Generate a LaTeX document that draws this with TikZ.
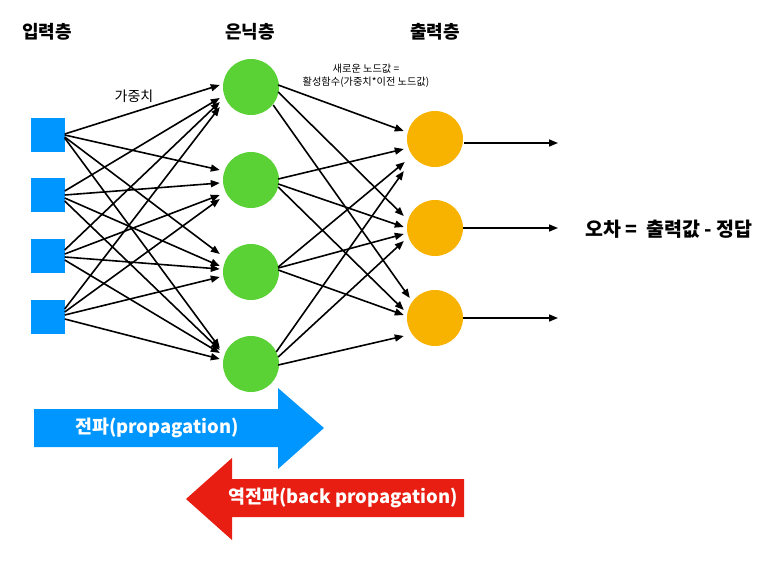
\documentclass[tikz,border=0pt]{standalone}
\usepackage{fontspec}
\setmainfont{Noto Sans CJK KR}
\usetikzlibrary{arrows.meta,calc}
\definecolor{inblue}{RGB}{0,150,255}
\definecolor{hgreen}{RGB}{90,209,52}
\definecolor{oorange}{RGB}{248,178,0}
\definecolor{bred}{RGB}{232,30,18}
\begin{document}
\begin{tikzpicture}[x=1pt,y=-1pt,
  conn/.style={line width=1.6pt,-{Triangle[length=9pt,width=7pt]}},
  inbox/.style={fill=inblue,minimum size=34pt,inner sep=0pt,draw=none},
  hidn/.style={circle,fill=hgreen,minimum size=56pt,inner sep=0pt},
  outn/.style={circle,fill=oorange,minimum size=56pt,inner sep=0pt},
  title/.style={font=\fontsize{18}{21}\selectfont\bfseries},
  small/.style={font=\fontsize{10.2}{13}\selectfont,align=center},
  big/.style={font=\fontsize{18.4}{22}\selectfont\bfseries,text=white},
]
\useasboundingbox (0,0) rectangle (768,560);

% layer titles
\node[title] (t1) at (47,32) {입력층};
\node[title] (t2) at (250,32) {은닉층};
\node[title] (t3) at (435,32) {출력층};

% nodes
\node[inbox] (in1) at (47.5,135) {};
\node[inbox] (in2) at (47.5,195) {};
\node[inbox] (in3) at (47.5,256) {};
\node[inbox] (in4) at (47.5,317) {};
\node[hidn] (h1) at (251,87) {};
\node[hidn] (h2) at (251,180) {};
\node[hidn] (h3) at (251,272) {};
\node[hidn] (h4) at (251,364) {};
\node[outn] (o1) at (435,139) {};
\node[outn] (o2) at (435,228) {};
\node[outn] (o3) at (435,318) {};

% input -> hidden
\foreach \i/\j/\s/\t in {
  1/1/-1/-2, 1/2/0/-10, 1/3/2/-18, 1/4/3/-16,
  2/1/-4/11, 2/2/0/3, 2/3/3/-6, 2/4/6/-14,
  3/1/-6/15, 3/2/-2/15, 3/3/1/-3, 3/4/4/-11,
  4/1/-8/20, 4/2/-5/19, 4/3/-2/5, 4/4/2/-5}
  \draw[conn] ($(in\i.east)+(0,\s)$) -- ($(h\j.west)+(-3,\t)$);

% hidden -> output
\foreach \j/\k/\sx/\sy/\tx/\ty in {
  1/1/-1/-2/-3/-8, 1/2/-1/5/-3/-12, 1/3/-6/18/3/-20,
  2/1/-1/-1/-3/10, 2/2/-1/4/-3/-1, 2/3/-1/7/-3/-8,
  3/1/-1/-5/-2/23, 3/2/-1/-4/-3/6, 3/3/-1/-2/-3/-3,
  4/1/-3/-12/-3/32, 4/2/-1/-7/-3/13, 4/3/-1/1/-3/18}
  \draw[conn] ($(h\j.east)+(\sx,\sy)$) -- ($(o\k.west)+(\tx,\ty)$);

% output arrows
\coordinate (e1) at (558,143);
\coordinate (e2) at (558,228);
\coordinate (e3) at (558,318);
\draw[conn] ($(o1.east)+(1,4)$) -- (e1);
\draw[conn] (o2.east) -- (e2);
\draw[conn] (o3.east) -- (e3);

% labels
\node[font=\fontsize{14}{17}\selectfont] (w) at (134,96) {가중치};
\node[small] (ann) at (366,76) {새로운 노드값 =\\활성함수(가중치*이전 노드값)};
\node[font=\fontsize{19.5}{23}\selectfont\bfseries,anchor=west] (err) at (582,229) {오차 =\ \ 출력값 - 정답};

% propagation arrows
\fill[inblue] (34,409) -- (278,409) -- (278,388) -- (324,428) -- (278,469) -- (278,447) -- (34,447) -- cycle;
\node[big] (fp) at (157,428) {전파(propagation)};
\fill[bred] (464,479) -- (232,479) -- (232,458) -- (186,499) -- (232,540) -- (232,517) -- (464,517) -- cycle;
\node[big] (bp) at (343,498) {역전파(back propagation)};
\end{tikzpicture}
\end{document}
